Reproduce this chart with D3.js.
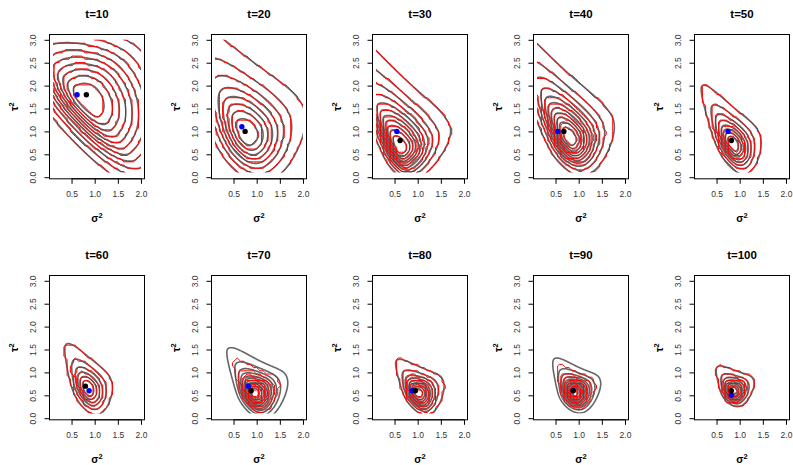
<!DOCTYPE html>
<html>
<head>
<meta charset="utf-8">
<script src="https://cdn.jsdelivr.net/npm/d3@7"></script>
<style>
  body { margin: 0; background: #fff; }
  svg { display: block; font-family: "Liberation Sans", Arial, sans-serif; }
</style>
</head>
<body>
<svg id="chart"></svg>
<script>
// panel times
const times = [10, 20, 30, 40, 50, 60, 70, 80, 90, 100];

// shape of the gray (reference) posterior
// mode in (sigma^2, tau^2); spreads along the main axis (tail = up-left, head = down-right)
// and across it (out = up-right, in = down-left)
const modeX  = [0.80, 0.78, 0.60, 0.80, 0.85, 0.85, 0.95, 1.00, 0.90, 0.85];
const modeY  = [1.70, 0.95, 0.65, 0.85, 0.72, 0.65, 0.55, 0.55, 0.57, 0.60];
const angle  = [130, 118, 115, 118, 117, 115, 120, 122, 120, 122];
const sdTail = [0.85, 0.70, 0.63, 0.61, 0.36, 0.31, 0.24, 0.20, 0.18, 0.155];
const sdHead = [1.15, 0.55, 0.36, 0.40, 0.34, 0.31, 0.28, 0.25, 0.22, 0.18];
const sdOut  = [0.80, 0.48, 0.38, 0.33, 0.22, 0.21, 0.25, 0.21, 0.20, 0.18];
const sdIn   = [0.36, 0.33, 0.175, 0.22, 0.16, 0.16, 0.16, 0.135, 0.15, 0.12];
const nLevels = [12, 9, 12, 12, 9, 7, 12, 10, 12, 9];

// red (estimated) contours: spread relative to gray
const redScale = [1.0, 1.0, 1.0, 1.0, 1.0, 1.0, 0.75, 1.0, 0.8, 1.0];

// blue and black points
const blueX  = [0.62, 0.68, 0.55, 0.55, 0.75, 0.88, 0.82, 0.88, 0.88, 0.82];
const blueY  = [1.80, 1.10, 1.00, 1.00, 1.00, 0.60, 0.70, 0.60, 0.60, 0.50];
const blackX = [0.82, 0.75, 0.62, 0.68, 0.82, 0.80, 0.88, 0.95, 0.88, 0.82];
const blackY = [1.80, 1.00, 0.80, 1.00, 0.80, 0.70, 0.60, 0.60, 0.60, 0.60];

const xTicks = [0.5, 1.0, 1.5, 2.0];
const yTicks = [0.0, 0.5, 1.0, 1.5, 2.0, 2.5, 3.0];

const width = 793, height = 465;
const boxW = 95, boxH = 144.3;
const colStep = 161.25, rowStep = 241.3;

const svg = d3.select("#chart").attr("width", width).attr("height", height);

// relative height of the posterior at (gx, gy), 1 at the mode
function shape(i, scale) {
  const a = angle[i] * Math.PI / 180, c = Math.cos(a), s = Math.sin(a);
  return (gx, gy) => {
    const u = gx - modeX[i], v = gy - modeY[i];
    const p = u * c + v * s, q = -u * s + v * c;
    let hp, hq;
    if (p > 0) { const z = p / (sdTail[i] * scale); hp = 1 / (1 + z * z / 2); }
    else { const z = p / (sdHead[i] * scale); hp = Math.exp(-0.5 * z * z); }
    if (q < 0) { const z = q / (sdOut[i] * scale); hq = Math.pow(1 + z * z / 4, -2); }
    else { const z = q / (sdIn[i] * scale); hq = Math.exp(-0.5 * z * z); }
    return hp * hq;
  };
}

function drawContours(g, i, x, y, step, smooth, scale, color, lw) {
  const gx0 = 0.02, gy0 = 0.02;
  const nx = Math.ceil((2.12 - gx0) / step) + 1, ny = Math.ceil((3.12 - gy0) / step) + 1;
  const f = shape(i, scale);
  const values = new Float64Array(nx * ny);
  for (let j = 0; j < ny; j++)
    for (let k = 0; k < nx; k++)
      values[j * nx + k] = f(gx0 + k * step, gy0 + j * step);
  const levels = d3.range(1, nLevels[i]).map(k => k / nLevels[i]);
  const contours = d3.contours().size([nx, ny]).smooth(smooth).thresholds(levels)(values);
  const proj = d3.geoTransform({
    point(px, py) { this.stream.point(x(gx0 + (px - 0.5) * step), y(gy0 + (py - 0.5) * step)); }
  });
  g.selectAll(null)
    .data(contours)
    .enter()
    .append("path")
    .attr("d", d3.geoPath(proj))
    .attr("fill", "none")
    .attr("stroke", color)
    .attr("stroke-width", lw)
    .attr("stroke-linejoin", "round");
}

times.forEach((t, i) => {
  const col = i % 5, row = Math.floor(i / 5);
  const left = Math.round(49.3 + col * colStep) + 0.5;
  const top = Math.round(34 + row * rowStep) + 0.5;

  const x = d3.scaleLinear().domain([0.024, 2.076]).range([left, left + boxW]);
  const y = d3.scaleLinear().domain([-0.035, 3.116]).range([top + boxH, top]);

  const g = svg.append("g");

  // contours stop at the edge of the density grid
  const clipId = "clip" + i;
  g.append("clipPath").attr("id", clipId)
    .append("rect")
    .attr("x", x(0.1)).attr("y", y(3.0))
    .attr("width", x(2.0) - x(0.1)).attr("height", y(0.1) - y(3.0));

  const cg = g.append("g").attr("clip-path", `url(#${clipId})`);
  drawContours(cg, i, x, y, 0.01, true, 1.0, "#666666", 1.6);
  drawContours(cg, i, x, y, 0.07, false, redScale[i], "#ff0000", 1);

  // points
  g.append("circle").attr("cx", x(blueX[i])).attr("cy", y(blueY[i])).attr("r", 2.7).attr("fill", "#0000ff");
  g.append("circle").attr("cx", x(blackX[i])).attr("cy", y(blackY[i])).attr("r", 2.7).attr("fill", "#000");

  // box
  g.append("rect")
    .attr("x", left).attr("y", top).attr("width", boxW).attr("height", boxH)
    .attr("fill", "none").attr("stroke", "#000").attr("stroke-width", 1);

  // y axis
  const yAxis = d3.axisLeft(y).tickValues(yTicks).tickSize(5).tickFormat(d3.format(".1f"));
  const ya = g.append("g").attr("transform", `translate(${left},0)`).call(yAxis);
  ya.attr("font-family", null);
  ya.select(".domain").attr("d", `M0,${y(0)}V${y(3)}`);
  ya.selectAll(".tick text")
    .attr("x", null)
    .attr("text-anchor", "middle")
    .attr("transform", "translate(-16,0) rotate(-90)")
    .attr("dy", "0.35em")
    .attr("font-size", 8.5)
    .attr("fill", "#333");

  // x axis
  const xAxis = d3.axisBottom(x).tickValues(xTicks).tickSize(5).tickFormat(d3.format(".1f"));
  const xa = g.append("g").attr("transform", `translate(0,${top + boxH})`).call(xAxis);
  xa.attr("font-family", null);
  xa.select(".domain").attr("d", `M${x(0.5)},0H${x(2.0)}`);
  xa.selectAll(".tick text")
    .attr("y", 18).attr("dy", null)
    .attr("font-size", 8.5)
    .attr("fill", "#333");

  // title
  g.append("text")
    .attr("x", left + boxW / 2).attr("y", top - 16.5)
    .attr("text-anchor", "middle")
    .attr("font-size", 11.5).attr("font-weight", "bold")
    .text("t=" + t);

  // axis titles
  const xl = g.append("text")
    .attr("x", left + boxW / 2).attr("y", top + boxH + 43)
    .attr("text-anchor", "middle")
    .attr("font-size", 10.5).attr("font-weight", "bold");
  xl.append("tspan").text("σ");
  xl.append("tspan").attr("dy", -4).attr("font-size", 7.5).text("2");

  const yl = g.append("text")
    .attr("transform", `translate(${left - 32},${top + boxH / 2}) rotate(-90)`)
    .attr("text-anchor", "middle")
    .attr("font-size", 10.5).attr("font-weight", "bold");
  yl.append("tspan").text("τ");
  yl.append("tspan").attr("dy", -4).attr("font-size", 7.5).text("2");
});
</script>
</body>
</html>
